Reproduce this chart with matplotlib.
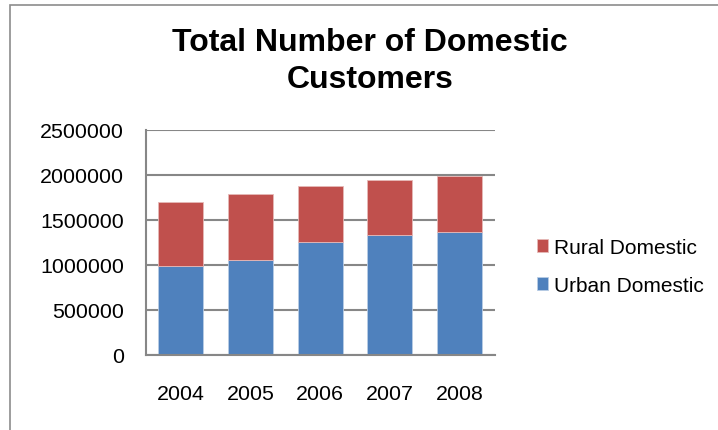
import matplotlib
matplotlib.use("Agg")
import matplotlib.pyplot as plt
from matplotlib.patches import Rectangle
import numpy as np

years = ["2004", "2005", "2006", "2007", "2008"]
urban = [985000, 1049000, 1256000, 1330000, 1363000]
rural = [715000, 733000, 615000, 607000, 626000]
yticks = [0, 500000, 1000000, 1500000, 2000000, 2500000]

plt.rcParams['font.family'] = ['Liberation Sans', 'DejaVu Sans']

W, H = 718, 431
fig = plt.figure(figsize=(W/100, H/100), dpi=100)

# chart-area border (left and top visible)
fig.patches.append(Rectangle((10/W, -0.1), 1.2, (H-6)/H + 0.1, transform=fig.transFigure,
                             fill=False, edgecolor='#8c8c8c', linewidth=1.2))

ax = fig.add_axes([146/W, (H-355.7)/H, 348.5/W, 225/H])
x = np.arange(len(years))
blue = '#4F81BD'
red = '#C0504D'
ax.bar(x, urban, width=0.645, color=blue, edgecolor='#b9cde5', linewidth=0.6,
       label='Urban Domestic', zorder=3)
ax.bar(x, rural, width=0.645, bottom=urban, color=red, edgecolor='#e6b9b8', linewidth=0.6,
       label='Rural Domestic', zorder=3)

ax.set_xlim(-0.5, len(years) - 0.5)
ax.set_ylim(0, 2500000)
ax.set_yticks(yticks)
ax.set_yticklabels([str(v) for v in yticks], fontsize=15.4)
ax.set_xticks(x)
ax.set_xticklabels(years, fontsize=15.4)
ax.tick_params(axis='y', length=0, pad=16)
ax.tick_params(axis='x', length=0, pad=21)
ax.yaxis.grid(True, color='#878787', linewidth=1.5, zorder=0)
for s in ['top', 'right']:
    ax.spines[s].set_visible(False)
for s in ['left', 'bottom']:
    ax.spines[s].set_color('#878787')
    ax.spines[s].set_linewidth(1.5)
ax.spines['bottom'].set_zorder(4)

fig.text(370/W, 1 - 43/H, "Total Number of Domestic", ha='center', va='center',
         fontsize=23, fontweight='bold')
fig.text(370/W, 1 - 80/H, "Customers", ha='center', va='center',
         fontsize=23, fontweight='bold')

handles, labels = ax.get_legend_handles_labels()
leg = fig.legend(handles[::-1], labels[::-1], loc='center left',
                 bbox_to_anchor=(537/W, 1 - 267.5/H), frameon=False, fontsize=15,
                 handlelength=0.55, handleheight=0.6, handletextpad=0.25, labelspacing=0.9,
                 borderpad=0, borderaxespad=0)

fig.savefig("out.png", dpi=100)
